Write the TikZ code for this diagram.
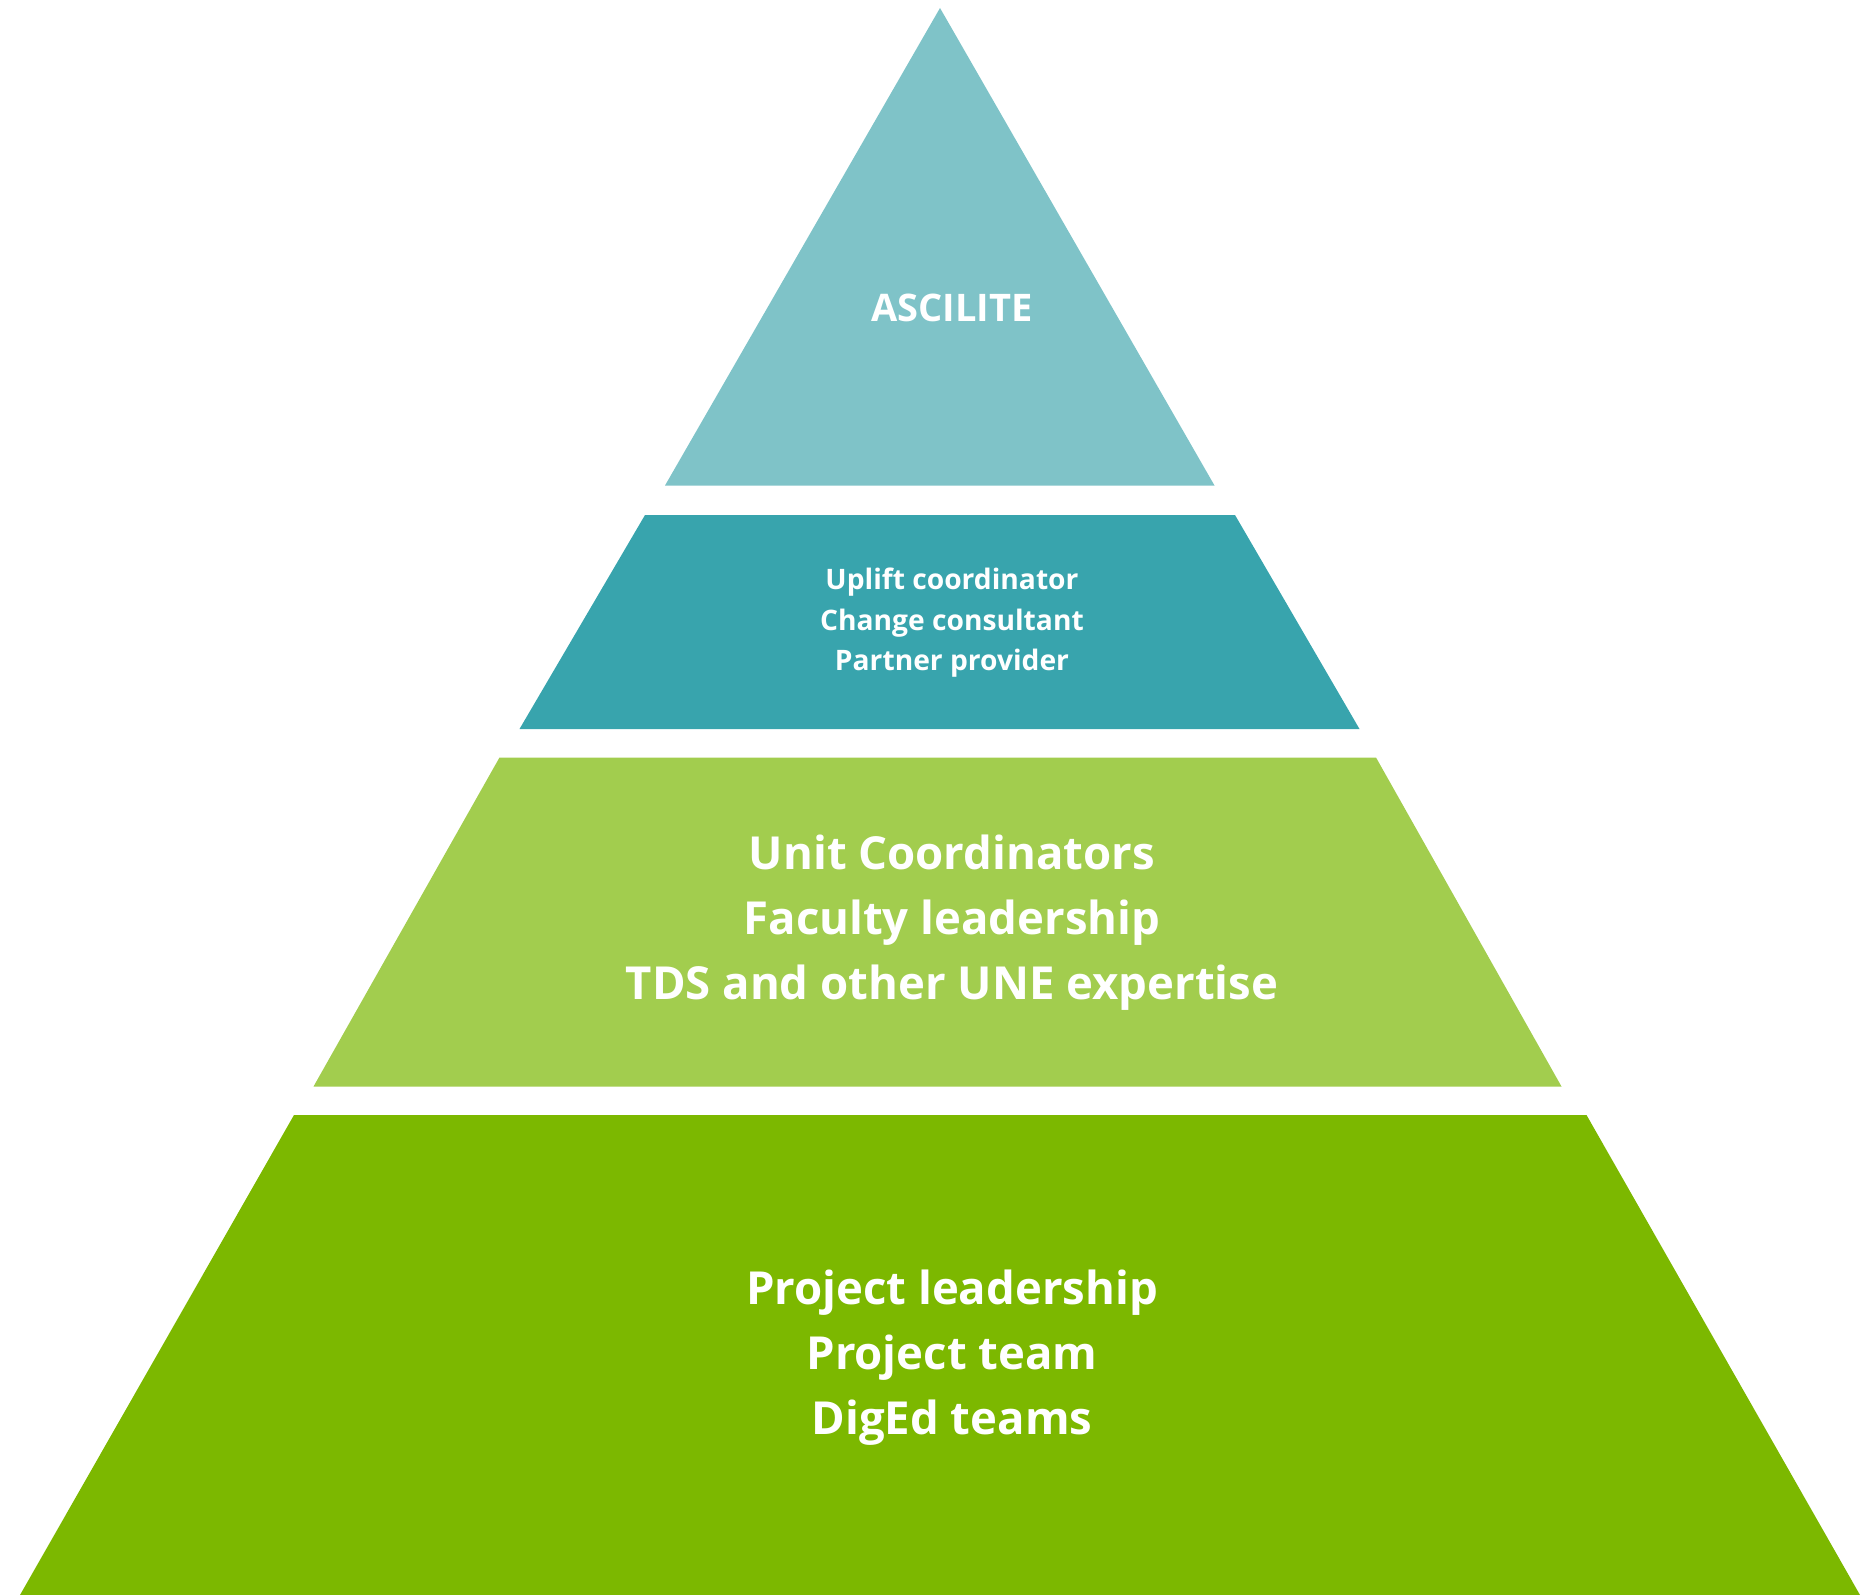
\documentclass[tikz,border=0pt]{standalone}
\usepackage{fontspec}
\setmainfont{Open Sans}
\definecolor{tierA}{HTML}{7FC3C8}
\definecolor{tierB}{HTML}{38A4AD}
\definecolor{tierC}{HTML}{A2CD4E}
\definecolor{tierD}{HTML}{7CB800}
\tikzset{
  tiertext/.style={text=white, align=center, inner sep=0pt, font=\bfseries},
}
\begin{document}
\begin{tikzpicture}[x=1pt,y=-1pt]
\useasboundingbox (0,0) rectangle (1868,1595);
% tiers
\fill[tierA] (940,8) -- (1214.5,485.5) -- (665,485.5) -- cycle;
\fill[tierB] (645,515) -- (1235,515) -- (1359.5,729) -- (519.5,729) -- cycle;
\fill[tierC] (499.5,757.5) -- (1376,757.5) -- (1561.5,1086.5) -- (313.5,1086.5) -- cycle;
\fill[tierD] (294,1115) -- (1586.5,1115) -- (1860,1595) -- (20,1595) -- cycle;
% labels
\node[tiertext, font=\bfseries\fontsize{38}{46}\selectfont] (ascilite) at (952,308) {ASCILITE};
\node[tiertext, font=\bfseries\fontsize{28.2}{40.5}\selectfont] (support) at (952,623)
  {Uplift coordinator\\Change consultant\\Partner provider};
\node[tiertext, font=\bfseries\fontsize{45.5}{65}\selectfont] (faculty) at (952,923)
  {Unit Coordinators\\Faculty leadership\\TDS and other UNE expertise};
\node[tiertext, font=\bfseries\fontsize{45.5}{65}\selectfont] (project) at (952,1358)
  {Project leadership\\Project team\\DigEd teams};
\end{tikzpicture}
\end{document}
